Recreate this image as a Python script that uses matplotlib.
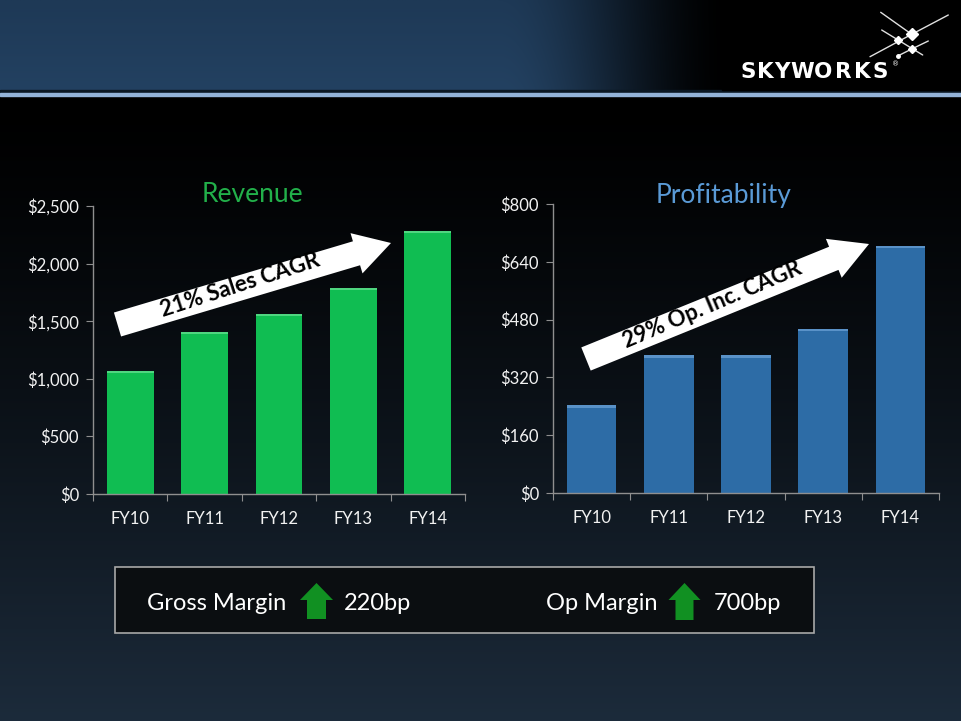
import numpy as np
import matplotlib
matplotlib.use('Agg')
import matplotlib.pyplot as plt
from matplotlib.patches import Polygon, Rectangle

plt.rcParams['font.family'] = ['Lato', 'DejaVu Sans']

# data
categories = ['FY10', 'FY11', 'FY12', 'FY13', 'FY14']
revenue = [1070, 1410, 1565, 1790, 2285]
op_income = [243, 381, 381, 454, 684]
rev_ticks = [0, 500, 1000, 1500, 2000, 2500]
rev_labels = ['$0', '$500', '$1,000', '$1,500', '$2,000', '$2,500']
prof_ticks = [0, 160, 320, 480, 640, 800]
prof_labels = ['$0', '$160', '$320', '$480', '$640', '$800']

axis_col = '#8f8f8f'
label_col = '#f2f2f2'

fig = plt.figure(figsize=(9.61, 7.21), dpi=100)

# background layer in pixel coords
bg = fig.add_axes([0, 0, 1, 1], zorder=0)
bg.axis('off')

ys = np.linspace(0, 1, 300)[:, None, None]
t = ys ** 1.3
bot = np.array([28, 43, 59]) / 255
body = np.zeros((300, 1, 3)) * (1 - t) + bot * t
bg.imshow(body, extent=(0, 961, 721, 97), aspect='auto', interpolation='bilinear')

xs = np.linspace(0, 961, 400)
f = np.clip((xs - 500) / (735 - 500), 0, 1)
f = f * f * (3 - 2 * f)
vy = np.linspace(0, 1, 40)[:, None, None]
blue_top = np.array([30, 57, 86]) / 255
blue_bot = np.array([35, 65, 97]) / 255
blue = blue_top * (1 - vy) + blue_bot * vy
head = blue * (1 - f)[None, :, None]
bg.imshow(head, extent=(0, 961, 90, 0), aspect='auto', interpolation='bilinear')

bg.add_patch(Rectangle((0, 90), 961, 3, color='#0b1824'))
bg.add_patch(Rectangle((0, 93), 961, 3, color='#93b3d8'))
bg.add_patch(Rectangle((722, 0), 239, 90, color='black'))

# logo star
star_lines = [
    ([880.7, 911.7], [12.3, 34.3]),
    ([911.7, 948.3], [34.3, 15.0]),
    ([911.7, 870.0], [34.3, 56.7]),
    ([881.7, 922.7], [30.0, 55.0]),
    ([911.7, 928.3], [49.0, 41.0]),
    ([911.7, 898.3], [49.0, 55.7]),
]
for lx, ly in star_lines:
    bg.plot(lx, ly, color='#e0e0e0', lw=1.0, solid_capstyle='round')
bg.plot([911.7], [34.3], marker='D', ms=6, color='white')
bg.plot([898.3, 911.7], [40, 49], marker='D', ms=4, color='white', lw=0)
bg.plot([898.3], [55.7], marker='o', ms=2.5, color='white')

letter_x = [748, 765, 781.5, 802, 823, 843, 862, 880]
for ch, lx in zip('SKYWORKS', letter_x):
    bg.text(lx, 72.5, ch, color='white', fontsize=15.5, fontweight='bold',
            family='DejaVu Sans', ha='center', va='center')
bg.text(896, 64, '®', color='white', fontsize=5, family='DejaVu Sans',
        ha='center', va='center')

bg.text(252, 194, 'Revenue', color='#22b04a', fontsize=19, ha='center', va='center')
bg.text(724, 195, 'Profitability', color='#5a9ad6', fontsize=19, ha='center', va='center')

bg.set_xlim(0, 961)
bg.set_ylim(721, 0)


def style_axes(ax, ticks, labels, top):
    ax.set_facecolor('none')
    ax.set_xlim(-0.5, 4.5)
    ax.set_ylim(0, top)
    ax.set_xticks(np.arange(-0.5, 5, 1))
    ax.tick_params(axis='x', which='major', length=5, color=axis_col, labelbottom=False)
    ax.set_xticks(np.arange(len(categories)), minor=True)
    ax.set_xticklabels(categories, minor=True)
    ax.tick_params(axis='x', which='minor', length=0, pad=12, labelsize=12,
                   labelcolor=label_col)
    ax.set_yticks(ticks)
    ax.set_yticklabels(labels)
    ax.tick_params(axis='y', length=5, color=axis_col, labelsize=12,
                   labelcolor=label_col, pad=5)
    for s in ['top', 'right']:
        ax.spines[s].set_visible(False)
    for s in ['left', 'bottom']:
        ax.spines[s].set_color(axis_col)
        ax.spines[s].set_linewidth(1)


x = np.arange(len(categories))

ax1 = fig.add_axes([93 / 961, 1 - 494 / 721, 372 / 961, 288 / 721], zorder=2)
ax1.bar(x, revenue, width=0.63, color='#10bd52', zorder=2)
cap1 = 2500 * 0.008
ax1.bar(x, cap1, bottom=np.array(revenue) - cap1, width=0.63, color='#4fd680', zorder=3)
style_axes(ax1, rev_ticks, rev_labels, 2500)

ax2 = fig.add_axes([553 / 961, 1 - 493 / 721, 386 / 961, 289 / 721], zorder=2)
ax2.bar(x, op_income, width=0.64, color='#2d6ca6', zorder=2)
cap2 = 800 * 0.008
ax2.bar(x, cap2, bottom=np.array(op_income) - cap2, width=0.64, color='#5a92c8', zorder=3)
style_axes(ax2, prof_ticks, prof_labels, 800)

# overlay: CAGR arrows and margin box
ov = fig.add_axes([0, 0, 1, 1], zorder=10)
ov.set_facecolor('none')
ov.axis('off')


def arrow_poly(tail, tip, w, hw, hl, color='white'):
    tail = np.array(tail, float)
    tip = np.array(tip, float)
    d = tip - tail
    d = d / np.hypot(*d)
    n = np.array([-d[1], d[0]])
    base = tip - d * hl
    pts = [tail + n * w / 2, base + n * w / 2, base + n * hw / 2, tip,
           base - n * hw / 2, base - n * w / 2, tail - n * w / 2]
    return Polygon(pts, closed=True, facecolor=color, edgecolor='none')


ov.add_patch(arrow_poly((117.5, 324.5), (391, 243), 25, 42, 36))
ov.text(240, 285, '21% Sales CAGR', fontsize=16, fontweight='bold', color='black',
        rotation=18, ha='center', va='center', rotation_mode='anchor')

ov.add_patch(arrow_poly((586, 359), (869, 244), 25, 42, 38))
ov.text(712, 305, '29% Op. Inc. CAGR', fontsize=16, fontweight='bold', color='black',
        rotation=23, ha='center', va='center', rotation_mode='anchor')

ov.add_patch(Rectangle((115, 567), 699, 66, facecolor='#0b0e11', edgecolor='#a8a8a8', lw=1.2))


def up_arrow(cx, top, bottom, hw, sw, hl):
    pts = [(cx, top), (cx + hw / 2, top + hl), (cx + sw / 2, top + hl),
           (cx + sw / 2, bottom), (cx - sw / 2, bottom), (cx - sw / 2, top + hl),
           (cx - hw / 2, top + hl)]
    return Polygon(pts, closed=True, facecolor='#119022', edgecolor='none')


ov.add_patch(up_arrow(316.5, 583, 619, 33, 19, 17))
ov.add_patch(up_arrow(684.5, 583, 620, 32, 18, 17))

ov.text(147, 603, 'Gross Margin', fontsize=17, color='white', ha='left', va='center')
ov.text(344, 603, '220bp', fontsize=17, color='white', ha='left', va='center')
ov.text(546, 603, 'Op Margin', fontsize=17, color='white', ha='left', va='center')
ov.text(714, 603, '700bp', fontsize=17, color='white', ha='left', va='center')

ov.set_xlim(0, 961)
ov.set_ylim(721, 0)

fig.savefig('out.png', dpi=100, facecolor='black')
